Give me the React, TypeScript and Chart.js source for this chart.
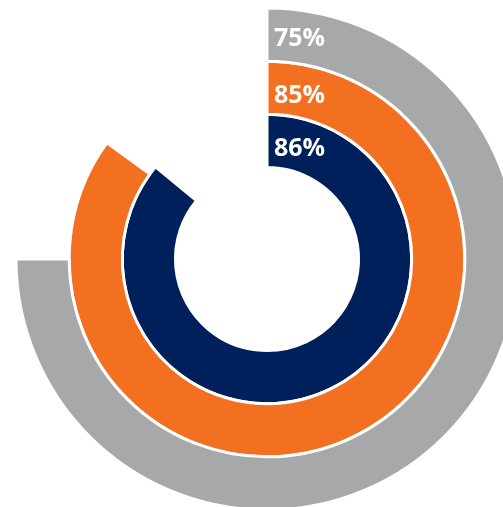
import React, { useEffect, useRef } from "react";
import { Chart, registerables } from "chart.js";

Chart.register(...registerables);

const seriesLabels = ["Outer", "Middle", "Inner"];
const seriesValues = [75, 85, 86];
const seriesColors = ["#A7A8AA", "#F37021", "#00205B"];
const valueLabels = ["75%", "85%", "86%"];

// small per-ring vertical nudges of the labels (px)
const LABEL_NUDGE = [2.5, 6, 6.5];

const labelPlugin = {
  id: "ringLabels",
  afterDatasetsDraw(chart: any) {
    const ctx = chart.ctx;
    ctx.save();
    ctx.fillStyle = "#FFFFFF";
    ctx.font = "bold 25px 'Open Sans', 'Noto Sans', sans-serif";
    ctx.textAlign = "left";
    ctx.textBaseline = "alphabetic";
    chart.data.datasets.forEach((_ds: any, i: number) => {
      const meta = chart.getDatasetMeta(i);
      const arc: any = meta.data[0];
      if (!arc) return;
      const mid = (arc.innerRadius + arc.outerRadius) / 2;
      ctx.fillText(valueLabels[i], arc.x + 7, arc.y - mid + 9 + LABEL_NUDGE[i]);
    });
    ctx.restore();
  },
};

export default function App() {
  const ref = useRef<HTMLCanvasElement | null>(null);
  useEffect(() => {
    if (!ref.current) return;
    const chart = new Chart(ref.current, {
      type: "doughnut",
      data: {
        labels: ["value", "rest"],
        datasets: seriesValues.map((v, i) => ({
          label: seriesLabels[i],
          data: [v, 100 - v],
          backgroundColor: [seriesColors[i], "rgba(0,0,0,0)"],
          borderColor: ["#FFFFFF", "rgba(0,0,0,0)"],
          borderWidth: [3, 0],
        })),
      },
      options: {
        responsive: false,
        animation: false,
        cutout: 91,
        radius: 251,
        layout: { padding: 8 },
        plugins: {
          legend: { display: false },
          tooltip: { enabled: false },
        },
      },
      plugins: [labelPlugin],
    });
    return () => chart.destroy();
  }, []);
  return (
    <div
      style={{
        position: "fixed",
        left: 0,
        top: 0,
        width: 503,
        height: 507,
        overflow: "hidden",
        background: "#FFFFFF",
      }}
    >
      <canvas ref={ref} width={534} height={518} style={{ display: "block", width: 534, height: 518 }} />
    </div>
  );
}
